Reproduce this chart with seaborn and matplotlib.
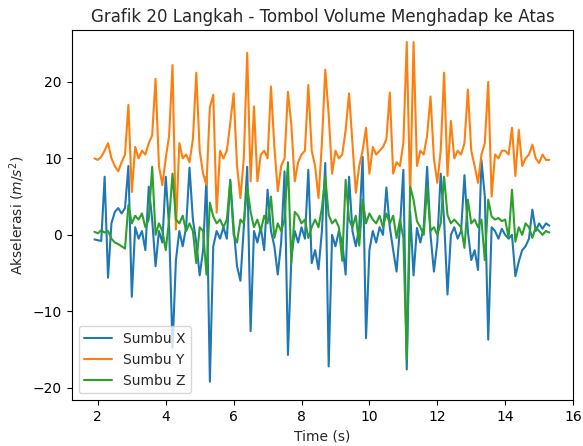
import numpy as np
import pandas as pd
import matplotlib
matplotlib.use("Agg")
import matplotlib.pyplot as plt
import seaborn as sns

# samples every 0.1 s, from 1.9 s to 15.3 s
t_start, t_end = 1.9, 15.3

sumbu_x = [
    -0.6, -0.7, -0.8, 7.6, -5.6, 1.5, 3.0, 3.5, 2.8, 3.5,
    9.0, -8.1, 1.0, -0.5, 0.5, -2.0, 6.3, 2.0, -4.1, 0.5,
    -1.0, 7.6, 1.0, -14.8, -3.3, 0.5, -1.5, 1.0, 8.8, 2.0,
    -1.0, -5.3, -2.0, 7.6, -19.2, -1.5, 0.5, -0.5, 1.0, -0.5,
    7.2, 1.0, -4.1, -6.0, 1.0, 8.9, -12.6, 0.5, -1.0, 1.0,
    -2.0, 5.9, 0.5, -1.5, -5.2, -1.0, 8.3, -15.7, -3.0, 0.5,
    -1.0, 1.0, -0.5, 8.5, -3.7, -2.0, -4.5, 0.5, 9.4, -17.2,
    0.0, -1.5, 0.5, -1.0, -5.2, 7.6, 0.5, -1.5, 1.0, 10.2,
    -13.5, -2.0, 0.5, -1.0, 1.0, 0.0, 6.2, 1.0, -2.0, -4.8,
    1.0, 8.5, -17.6, 3.0, -5.3, 0.9, -1.0, 1.0, 8.9, 0.0,
    -4.8, -1.0, 8.0, 2.0, -7.8, 0.0, 1.0, -0.5, 0.5, 7.8,
    0.5, -3.3, -2.0, -4.6, 9.8, 5.0, -13.7, 1.0, 0.5, -0.5,
    0.8, 0.0, -0.5, 0.0, -5.4, -3.5, -2.0, -1.5, -0.5, 3.3,
    0.5, 1.5, 0.8, 1.5, 1.2,
]

sumbu_y = [
    10.0, 9.8, 10.2, 11.0, 12.0, 10.0, 9.0, 8.3, 9.5, 10.5,
    17.0, 5.6, 11.5, 10.0, 11.0, 10.5, 12.0, 13.0, 20.4, 9.0,
    6.5, 10.0, 13.0, 22.2, 0.7, 12.0, 10.0, 10.5, 9.5, 12.5,
    21.2, 11.0, 8.0, 6.5, 16.7, 18.3, 2.9, 11.0, 10.0, 11.0,
    14.6, 18.5, 9.0, 4.8, 10.0, 23.8, 7.0, 16.8, 7.0, 10.5,
    11.0, 10.0, 19.4, 11.5, 5.7, 9.0, 10.0, 18.7, 14.4, 7.0,
    9.5, 10.5, 11.0, 19.6, 11.0, 9.0, 4.8, 12.0, 21.6, 15.7,
    8.0, 11.0, 10.0, 10.5, 13.7, 18.5, 12.0, 5.5, 9.0, 11.0,
    14.0, 8.0, 11.5, 10.5, 11.0, 11.5, 12.5, 18.6, 8.0, 9.5,
    9.0, 12.0, 25.2, 5.0, 25.2, 9.0, 11.0, 10.5, 13.0, 18.1,
    10.0, 6.8, 11.0, 21.2, 7.7, 14.9, 10.0, 11.0, 10.5, 12.0,
    19.0, 11.0, 9.0, 6.8, 10.5, 12.0, 20.0, 5.0, 10.5, 10.0,
    11.0, 11.0, 10.5, 14.0, 7.7, 13.7, 9.0, 10.0, 10.5, 11.8,
    10.0, 9.4, 10.5, 9.8, 9.8,
]

sumbu_z = [
    0.4, 0.2, 0.6, 0.3, 0.5, -0.5, -1.0, -1.2, -1.5, -1.8,
    3.9, 1.5, 2.5, 2.0, 2.8, 1.0, 2.0, 8.9, 0.0, 1.5,
    0.5, -2.0, 2.0, 8.0, 2.0, 1.5, 2.5, 0.5, 1.5, 0.5,
    -3.7, 1.0, 0.5, -5.2, 4.2, 2.4, 1.5, 2.0, 1.0, 2.0,
    7.0, 0.0, -1.0, 2.0, 1.5, 6.3, 3.0, 1.0, 2.0, 0.5,
    2.5, 1.5, 5.0, -0.4, 1.5, 0.5, 2.0, 9.5, -3.7, 3.0,
    2.5, 1.5, 2.0, -0.4, 1.0, 2.0, 1.0, 3.5, 7.6, 2.6,
    1.5, 2.0, 1.0, -3.4, 7.2, 2.0, 1.0, 2.5, -1.4, 4.6,
    1.5, 2.8, 2.0, 1.5, 2.5, 1.0, 2.8, 1.5, 2.5, -0.4,
    2.0, -0.4, -16.3, 6.3, 4.6, 1.8, 1.0, 0.0, 6.3, 0.5,
    1.0, 0.0, 1.5, 7.6, 2.6, 1.5, 2.0, 1.5, 1.0, -1.7,
    4.6, 1.5, 2.0, 1.0, 2.0, -3.3, 4.6, 2.4, 2.0, 2.2,
    1.8, 2.0, -0.4, 5.9, -0.9, 1.0, 0.0, 1.5, 1.0, -0.4,
    1.0, 0.5, 0.0, 0.5, 0.3,
]

time = np.linspace(t_start, t_end, len(sumbu_y))

df = pd.DataFrame({"Time": time, "Sumbu X": sumbu_x,
                   "Sumbu Y": sumbu_y, "Sumbu Z": sumbu_z})
long_df = df.melt(id_vars="Time", var_name="Sumbu", value_name="Akselerasi")

sns.set_style("ticks")
plt.rcParams["font.family"] = ["DejaVu Sans"]

fig = plt.figure(figsize=(5.83, 4.46), dpi=100)
ax = fig.add_axes([0.123, 0.103, 0.86, 0.83])

sns.lineplot(data=long_df, x="Time", y="Akselerasi", hue="Sumbu",
             palette=["#1f77b4", "#ff7f0e", "#2ca02c"], linewidth=1.5,
             ax=ax)

ax.set_title("Grafik 20 Langkah - Tombol Volume Menghadap ke Atas", fontsize=12)
ax.set_xlabel("Time (s)", fontsize=10)
ax.set_ylabel("Akselerasi ($m/s^2$)", fontsize=10)
ax.set_xticks([2, 4, 6, 8, 10, 12, 14, 16])
ax.set_yticks([-20, -10, 0, 10, 20])
ax.set_xlim(1.23, 16.0)
ax.set_ylim(-21.6, 26.8)
for s in ax.spines.values():
    s.set_color("black")
    s.set_linewidth(0.8)
ax.tick_params(colors="black", labelsize=10)
ax.legend(title=None, loc="lower left", fontsize=10)

fig.savefig("out.png", dpi=100)
